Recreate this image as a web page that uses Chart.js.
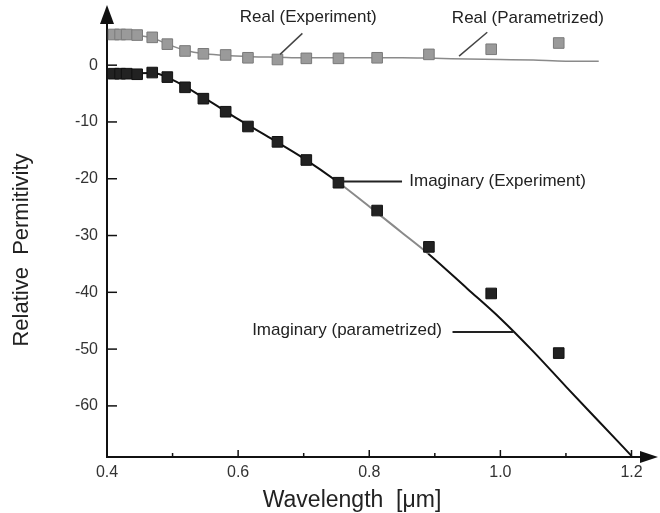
<!DOCTYPE html>
<html>
<head>
<meta charset="utf-8">
<script src="https://cdn.jsdelivr.net/npm/chart.js@4.4.0/dist/chart.umd.min.js"></script>
<style>
  body { margin: 0; background: #fff; }
  #wrap { width: 660px; height: 513px; }
</style>
</head>
<body>
<div id="wrap"><canvas id="permChart" width="660" height="513"></canvas></div>
<script>
// measured points (wavelength in um)
var wavelengths = [0.41, 0.42, 0.43, 0.446, 0.469, 0.492, 0.519, 0.547, 0.581, 0.615, 0.66, 0.704, 0.753, 0.812, 0.891, 0.986, 1.089];
var realExp = [5.4, 5.4, 5.4, 5.3, 4.9, 3.7, 2.5, 2.0, 1.8, 1.3, 1.0, 1.2, 1.2, 1.3, 1.9, 2.8, 3.9];
var imagExp = [-1.5, -1.5, -1.5, -1.6, -1.3, -2.1, -3.9, -5.9, -8.2, -10.8, -13.5, -16.7, -20.7, -25.6, -32.0, -40.2, -50.7];

// parametrized model curves
var realFitX = [0.41, 0.43, 0.45, 0.47, 0.49, 0.52, 0.55, 0.58, 0.62, 0.66, 0.7, 0.75, 0.8, 0.85, 0.9, 0.95, 1.0, 1.05, 1.1, 1.15];
var realFitY = [5.4, 5.4, 5.2, 4.8, 3.8, 2.6, 2.0, 1.7, 1.5, 1.4, 1.3, 1.3, 1.3, 1.3, 1.2, 1.1, 1.0, 0.9, 0.7, 0.7];
var imagFitX = [0.41, 0.47, 0.5, 0.55, 0.6, 0.65, 0.7, 0.75, 0.8, 0.85, 0.89, 0.95, 1.0, 1.05, 1.1, 1.15, 1.2];
var imagFitY = [-1.5, -1.4, -2.6, -5.9, -9.5, -12.9, -16.4, -20.4, -24.9, -29.5, -33.2, -39.4, -44.6, -50.4, -56.6, -62.7, -68.8];

var xTicks = [0.4, 0.5, 0.6, 0.7, 0.8, 0.9, 1.0, 1.1, 1.2];
var xMajor = [0.4, 0.6, 0.8, 1.0, 1.2];
var yTicks = [0, -10, -20, -30, -40, -50, -60];

function pts(xs, ys) {
    return xs.map(function(x, i) { return { x: x, y: ys[i] }; });
}

// axis decorations: inward ticks, arrow heads, titles and callouts
var decorations = {
    id: 'decorations',
    afterDraw: function(chart) {
        var ctx = chart.ctx;
        var xs = chart.scales.x, ys = chart.scales.y;
        var area = chart.chartArea;
        var tipX = 658, tipY = 5;
        ctx.save();
        ctx.strokeStyle = '#111';
        ctx.fillStyle = '#111';
        ctx.lineWidth = 1.5;

        xTicks.forEach(function(v) {
            var px = xs.getPixelForValue(v);
            var len = xMajor.indexOf(v) >= 0 ? 7 : 4;
            ctx.beginPath();
            ctx.moveTo(px, area.bottom);
            ctx.lineTo(px, area.bottom - len);
            ctx.stroke();
        });
        yTicks.forEach(function(v) {
            var py = ys.getPixelForValue(v);
            ctx.beginPath();
            ctx.moveTo(area.left, py);
            ctx.lineTo(area.left + 10, py);
            ctx.stroke();
        });

        // axis lines run on into the arrow heads
        ctx.lineWidth = 2;
        ctx.beginPath();
        ctx.moveTo(area.left, area.top);
        ctx.lineTo(area.left, tipY + 10);
        ctx.moveTo(area.right, area.bottom);
        ctx.lineTo(tipX - 10, area.bottom);
        ctx.stroke();
        ctx.beginPath();
        ctx.moveTo(area.left, tipY);
        ctx.lineTo(area.left - 7, tipY + 19);
        ctx.lineTo(area.left + 7, tipY + 19);
        ctx.closePath();
        ctx.fill();
        ctx.beginPath();
        ctx.moveTo(tipX, area.bottom);
        ctx.lineTo(tipX - 18, area.bottom - 6);
        ctx.lineTo(tipX - 18, area.bottom + 6);
        ctx.closePath();
        ctx.fill();

        // axis titles
        ctx.fillStyle = '#222';
        ctx.font = '23px "Liberation Sans", Arial, sans-serif';
        ctx.textAlign = 'center';
        ctx.textBaseline = 'alphabetic';
        ctx.fillText('Wavelength  [\u03bcm]', 352, 507);
        ctx.save();
        ctx.translate(28, 250);
        ctx.rotate(-Math.PI / 2);
        ctx.font = '22px "Liberation Sans", Arial, sans-serif';
        ctx.fillText('Relative  Permitivity', 0, 0);
        ctx.restore();

        // callouts
        function line(x1, y1, x2, y2) {
            ctx.beginPath();
            ctx.moveTo(xs.getPixelForValue(x1), ys.getPixelForValue(y1));
            ctx.lineTo(xs.getPixelForValue(x2), ys.getPixelForValue(y2));
            ctx.stroke();
        }
        function label(text, x, y, align) {
            ctx.textAlign = align;
            ctx.fillText(text, xs.getPixelForValue(x), ys.getPixelForValue(y));
        }
        ctx.font = '17px "Liberation Sans", Arial, sans-serif';
        ctx.textBaseline = 'middle';
        ctx.lineWidth = 1.5;
        ctx.strokeStyle = '#444';
        line(0.698, 5.6, 0.664, 1.9);
        line(0.980, 5.8, 0.937, 1.6);
        ctx.strokeStyle = '#222';
        ctx.lineWidth = 2;
        line(0.760, -20.5, 0.850, -20.5);
        line(0.927, -47.0, 1.020, -47.0);
        label('Real (Experiment)', 0.707, 8.4, 'center');
        label('Real (Parametrized)', 1.042, 8.2, 'center');
        label('Imaginary (Experiment)', 0.861, -20.5, 'left');
        label('Imaginary (parametrized)', 0.911, -46.7, 'right');
        ctx.restore();
    }
};

var ctx = document.getElementById('permChart').getContext('2d');
var chart = new Chart(ctx, {
    type: 'line',
    data: {
        datasets: [{
            label: 'Real (Parametrized)',
            data: pts(realFitX, realFitY),
            borderColor: '#8a8a8a',
            borderWidth: 1.5,
            pointRadius: 0,
            cubicInterpolationMode: 'monotone',
            order: 2
        }, {
            label: 'Imaginary (parametrized)',
            data: pts(imagFitX, imagFitY),
            borderColor: '#111',
            borderWidth: 2,
            pointRadius: 0,
            cubicInterpolationMode: 'monotone',
            segment: {
                borderColor: function(c) {
                    return (c.p0.parsed.x >= 0.75 && c.p1.parsed.x <= 0.89) ? '#8a8a8a' : '#111';
                }
            },
            order: 2
        }, {
            label: 'Real (Experiment)',
            data: pts(wavelengths, realExp),
            showLine: false,
            pointStyle: 'rect',
            pointRadius: 7.5,
            backgroundColor: '#9a9a9a',
            borderColor: '#7a7a7a',
            borderWidth: 1,
            order: 1
        }, {
            label: 'Imaginary (Experiment)',
            data: pts(wavelengths, imagExp),
            showLine: false,
            pointStyle: 'rect',
            pointRadius: 7.5,
            backgroundColor: '#222',
            borderColor: '#111',
            borderWidth: 1,
            order: 1
        }]
    },
    options: {
        responsive: false,
        animation: false,
        devicePixelRatio: 1,
        layout: { padding: { left: 0, right: 3, top: 7, bottom: 0 } },
        plugins: {
            legend: { display: false },
            tooltip: { enabled: false }
        },
        scales: {
            x: {
                type: 'linear',
                min: 0.4,
                max: 1.2305,
                afterBuildTicks: function(scale) {
                    scale.ticks = xTicks.map(function(v) { return { value: v }; });
                },
                afterFit: function(scale) { scale.height = 56; },
                grid: { display: false, drawTicks: false },
                border: { display: true, color: '#111', width: 2 },
                ticks: {
                    autoSkip: false,
                    maxRotation: 0,
                    padding: 6,
                    color: '#333',
                    font: { family: '"Liberation Sans", Arial, sans-serif', size: 16 },
                    callback: function(v) { return xMajor.indexOf(v) >= 0 ? v.toFixed(1) : ''; }
                }
            },
            y: {
                type: 'linear',
                min: -69,
                max: 8.2,
                afterBuildTicks: function(scale) {
                    scale.ticks = yTicks.map(function(v) { return { value: v }; });
                },
                afterFit: function(scale) { scale.width = 107; },
                grid: { display: false, drawTicks: false },
                border: { display: true, color: '#111', width: 2 },
                ticks: {
                    autoSkip: false,
                    padding: 9,
                    color: '#333',
                    font: { family: '"Liberation Sans", Arial, sans-serif', size: 16 },
                    callback: function(v) { return String(v); }
                }
            }
        }
    },
    plugins: [decorations]
});
</script>
</body>
</html>
